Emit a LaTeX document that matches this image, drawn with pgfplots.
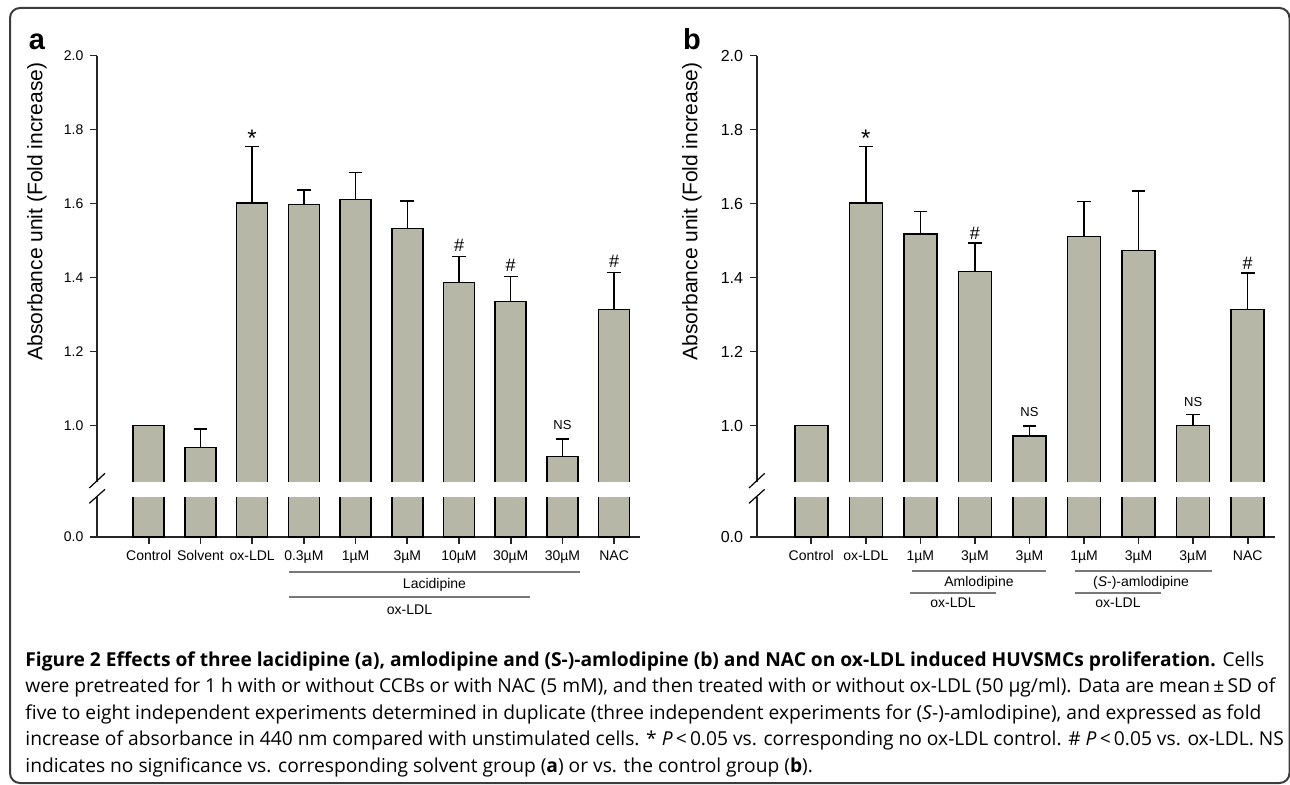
\documentclass[border=0pt]{standalone}
\usepackage{pgfplots}
\pgfplotsset{compat=1.18}
\usepackage{fontspec}
\setmainfont{Liberation Sans}
\newfontfamily\capfont{Open Sans}
\definecolor{barfill}{RGB}{183,183,168}
\definecolor{framegray}{RGB}{60,60,60}
\definecolor{grpgray}{RGB}{120,120,120}

% panel a: x, mean, SD
\pgfplotstableread{
x y e
0 1.000 0
1 0.941 0.050
2 1.601 0.153
3 1.597 0.040
4 1.611 0.072
5 1.532 0.075
6 1.387 0.070
7 1.335 0.068
8 0.916 0.048
9 1.314 0.099
}\dataA
% panel b
\pgfplotstableread{
x y e
0 1.000 0
1 1.601 0.153
2 1.517 0.062
3 1.416 0.077
4 0.971 0.028
5 1.511 0.094
6 1.473 0.161
7 1.000 0.029
8 1.313 0.099
}\dataB

% broken y axis: the bottom of the box stands for 0.0
\pgfplotsset{
  panel/.style={scale only axis, xmin=-1, ybar, clip=true,
    height=240.75pt, ymin=0.6986, ymax=2.0,
    axis y line*=left, axis x line*=bottom,
    axis line style={line width=1pt, black!85},
    tick style={line width=0.8pt, black!85},
    tick align=outside, major tick length=3.3pt,
    ytick={0.6986,1,1.2,1.4,1.6,1.8,2},
    yticklabels={0.0,1.0,1.2,1.4,1.6,1.8,2.0},
    ticklabel style={font=\fontsize{7}{8}\selectfont}},
  bars/.style={fill=barfill, draw=black, line width=0.8pt},
  errs/.style={error bars/.cd, y dir=plus, y explicit,
    error bar style={line width=0.7pt, black},
    error mark options={rotate=90, mark size=3.4pt, line width=0.7pt, black}},
}
\tikzset{
  star/.style={anchor=base, font=\fontsize{12}{12}\selectfont},
  hash/.style={anchor=base, yshift=2.5pt, font=\fontsize{9}{9}\selectfont},
  ns/.style={anchor=base, yshift=4.5pt, font=\fontsize{6.5}{7}\selectfont},
}

\begin{document}
\begin{tikzpicture}
\path[use as bounding box] (0,0) rectangle (645pt,392pt);

% ---- panel a ----
\begin{axis}[panel, at={(48.5pt,123.5pt)}, anchor=south west,
  width=271.5pt, xmax=9.5, bar width=15.5pt, xtick={0,...,9},
  xticklabels={Control,Solvent,ox-LDL,0.3µM,1µM,3µM,10µM,30µM,30µM,NAC}]
  \addplot[bars, errs] table[x=x, y=y, y error=e] {\dataA};
  \node[star] at (axis cs:2,1.754) {*};
  \node[hash] at (axis cs:6,1.457) {\#};
  \node[hash] at (axis cs:7,1.403) {\#};
  \node[hash] at (axis cs:9,1.413) {\#};
  \node[ns] at (axis cs:8,0.964) {NS};
\end{axis}

% ---- panel b ----
\begin{axis}[panel, at={(378.35pt,123.5pt)}, anchor=south west,
  width=259.15pt, xmax=8.5, bar width=16.5pt, xtick={0,...,8},
  yticklabel style={font=\fontsize{8}{9}\selectfont},
  xticklabels={Control,ox-LDL,1µM,3µM,3µM,1µM,3µM,3µM,NAC}]
  \addplot[bars, errs] table[x=x, y=y, y error=e] {\dataB};
  \node[star] at (axis cs:1,1.754) {*};
  \node[hash, yshift=-0.5pt] at (axis cs:3,1.493) {\#};
  \node[hash, yshift=-0.5pt] at (axis cs:8,1.412) {\#};
  \node[ns] at (axis cs:4,0.999) {NS};
  \node[ns, yshift=-0.5pt] at (axis cs:7,1.029) {NS};
\end{axis}

\begin{scope}[x=0.5pt,y=0.5pt]
  % frame
  \draw[framegray, line width=1pt, rounded corners=5pt] (10,776) rectangle (1289.5,1);
  % white band of the axis break, then the break marks
  \fill[white] (92,287) rectangle (642,302);
  \fill[white] (752,287) rectangle (1278,302);
  \foreach \dx in {0,659.7}{
    \draw[black, line width=0.6pt] (89.3+\dx,296) -- (105+\dx,310.7);
    \draw[black, line width=0.6pt] (89.3+\dx,280.7) -- (105+\dx,294.7);
  }
  % y labels and panel letters
  \node[rotate=90, font=\fontsize{10.5}{12}\selectfont] at (37,572.5) {Absorbance unit (Fold increase)};
  \node[rotate=90, font=\fontsize{10.5}{12}\selectfont] at (692,572.5) {Absorbance unit (Fold increase)};
  \node[anchor=base, font=\bfseries\fontsize{14.5}{15}\selectfont] at (37,734) {a};
  \node[anchor=base, font=\bfseries\fontsize{14.5}{15}\selectfont] at (692,734) {b};
  % group brackets
  \begin{scope}[grpgray, line width=0.6pt]
    \draw (289,212) -- (580,212);
    \draw (289,187) -- (530,187);
    \draw (911.6,213) -- (1046.3,213);
    \draw (910.3,191) -- (995.7,191);
    \draw (1075,213) -- (1212,213);
    \draw (1075,191) -- (1161,191);
  \end{scope}
  \begin{scope}[font=\fontsize{7}{8}\selectfont]
    \node at (434.5,199) {Lacidipine};
    \node at (409.5,174) {ox-LDL};
    \node at (979,201) {Amlodipine};
    \node at (953,181) {ox-LDL};
    \node at (1141,201) {(\textit{S}-)-amlodipine};
    \node at (1118,181) {ox-LDL};
  \end{scope}
  % caption
  \begin{scope}[font=\capfont\fontsize{9.6}{11}\selectfont, inner sep=0pt]
    \node[anchor=base west] at (25,118) {\textbf{Figure 2 Effects of three lacidipine (a), amlodipine and (S-)-amlodipine (b) and NAC on ox-LDL induced HUVSMCs proliferation.} Cells};
    \node[anchor=base west] at (25,91.5) {were pretreated for 1 h with or without CCBs or with NAC (5 mM), and then treated with or without ox-LDL (50 µg/ml). Data are mean\,±\,SD of};
    \node[anchor=base west] at (25,65) {five to eight independent experiments determined in duplicate (three independent experiments for (\textit{S}-)-amlodipine), and expressed as fold};
    \node[anchor=base west] at (25,38.5) {increase of absorbance in 440 nm compared with unstimulated cells. * \textit{P}\,<\,0.05 vs. corresponding no ox-LDL control. \# \textit{P}\,<\,0.05 vs. ox-LDL. NS};
    \node[anchor=base west] at (25,12) {indicates no significance vs. corresponding solvent group (\textbf{a}) or vs. the control group (\textbf{b}).};
  \end{scope}
\end{scope}
\end{tikzpicture}
\end{document}
